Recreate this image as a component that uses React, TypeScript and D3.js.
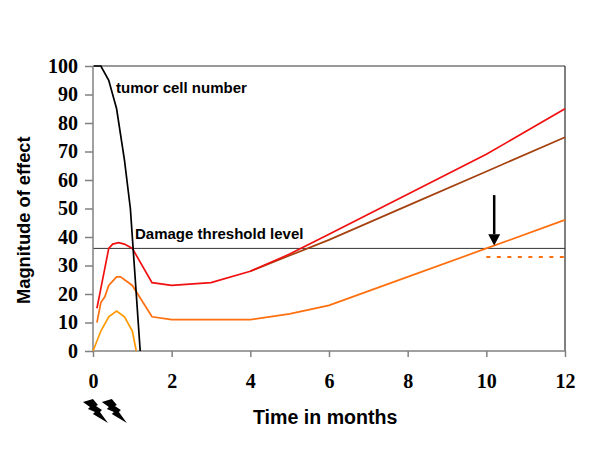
import React, { useEffect, useRef } from 'react';
import * as d3 from 'd3';

const yTicks = [0, 10, 20, 30, 40, 50, 60, 70, 80, 90, 100];
const xTicks = [0, 2, 4, 6, 8, 10, 12];

const tumorMonths = [0.02, 0.2, 0.4, 0.6, 0.8, 0.95, 1.2];
const tumorValues = [100, 100, 95, 85, 67, 50, 0];

const redMonths = [0.1, 0.2, 0.4, 0.5, 0.65, 0.8, 1, 1.5, 2, 3, 4, 5, 6, 8, 10, 12];
const redValues = [15, 22, 36, 37.5, 38, 37.5, 36, 24, 23, 24, 28, 34, 41, 55, 69, 85];

const brownMonths = [4, 5, 6, 8, 10, 12];
const brownValues = [28, 33.5, 39, 51, 63, 75];

const orangeMonths = [0.1, 0.2, 0.3, 0.4, 0.6, 0.7, 1, 1.5, 2, 4, 5, 6, 8, 10, 12];
const orangeValues = [10, 17, 19, 23, 26, 26, 23, 12, 11, 11, 13, 16, 26, 36, 46];

const lightMonths = [0, 0.2, 0.4, 0.6, 0.8, 1, 1.1];
const lightValues = [0, 7, 12, 14, 12, 7, 0];

const threshold = 36;
const dashedLevel = 33;
const dashedMonths = [10, 12];
const arrowMonth = 10.2;
const boltMonths = [0.05, 0.53];

const serif = '"Liberation Serif", serif';
const sans = '"Liberation Sans", Arial, sans-serif';

const App = () => {
  const svgRef = useRef<SVGSVGElement>(null);

  useEffect(() => {
    const svg = d3.select(svgRef.current);
    svg.selectAll('*').remove();

    const x = d3.scaleLinear().domain([0, 12]).range([93, 565]);
    const y = d3.scaleLinear().domain([0, 100]).range([351, 66]);

    const line = d3.line<number[]>().x(d => x(d[0])).y(d => y(d[1]));
    const pairs = (xs: number[], ys: number[]) => xs.map((v, i) => [v, ys[i]]);

    // plot frame
    svg.append('line').attr('x1', x(0)).attr('x2', x(12)).attr('y1', y(100)).attr('y2', y(100))
      .attr('stroke', '#333').attr('stroke-width', 1);
    svg.append('line').attr('x1', x(12)).attr('x2', x(12)).attr('y1', y(100)).attr('y2', y(0))
      .attr('stroke', '#000').attr('stroke-width', 1);

    // threshold
    svg.append('line').attr('x1', x(0)).attr('x2', x(12)).attr('y1', y(threshold)).attr('y2', y(threshold))
      .attr('stroke', '#333').attr('stroke-width', 1);

    // axes
    const axisY = svg.append('g')
      .attr('transform', `translate(${x(0)},0)`)
      .call(d3.axisLeft(y).tickValues(yTicks).tickSize(8).tickPadding(7));
    const axisX = svg.append('g')
      .attr('transform', `translate(0,${y(0)})`)
      .call(d3.axisBottom(x).tickValues(xTicks).tickSize(6).tickPadding(17));

    [axisY, axisX].forEach(a => {
      a.selectAll('path, line').attr('stroke', '#808080').attr('stroke-width', 1.5);
      a.selectAll('text')
        .attr('fill', '#000')
        .style('font-family', serif)
        .style('font-size', '20px')
        .style('font-weight', 'bold');
    });
    axisY.select('path').attr('d', `M0,${y(100)}V${y(0)}`);
    axisX.select('path').attr('d', `M${x(0)},0H${x(12)}`);

    // series
    const series: [number[], number[], string][] = [
      [lightMonths, lightValues, '#ff9900'],
      [orangeMonths, orangeValues, '#ff6f0e'],
      [brownMonths, brownValues, '#a5410f'],
      [redMonths, redValues, '#f01010'],
      [tumorMonths, tumorValues, '#000'],
    ];
    series.forEach(([xs, ys, color]) => {
      svg.append('path')
        .attr('d', line(pairs(xs, ys)))
        .attr('fill', 'none')
        .attr('stroke', color)
        .attr('stroke-width', 1.7);
    });

    // dashed level
    svg.append('line')
      .attr('x1', x(dashedMonths[0])).attr('x2', x(dashedMonths[1]))
      .attr('y1', y(dashedLevel)).attr('y2', y(dashedLevel))
      .attr('stroke', '#ff6f0e').attr('stroke-width', 2)
      .attr('stroke-dasharray', '4 6.5');

    // arrow
    const ax = x(arrowMonth);
    svg.append('line').attr('x1', ax).attr('x2', ax).attr('y1', y(54.7)).attr('y2', y(41))
      .attr('stroke', '#000').attr('stroke-width', 2.5);
    svg.append('path')
      .attr('d', `M${ax - 6},${y(41)}H${ax + 6}L${ax},${y(37)}Z`)
      .attr('fill', '#000');

    // radiation bolts
    boltMonths.forEach(m => {
      svg.append('path')
        .attr('transform', `translate(${x(m) - 12},399)`)
        .attr('d', 'M0,3 L10,0 L15,6 L13,7 L19,11 L17,13 L25,24 L10,15 L12,13 L5,10 L7,8 Z')
        .attr('fill', '#000');
    });

    // labels
    const label = (tx: number, ty: number, text: string, size: number) =>
      svg.append('text')
        .attr('x', tx).attr('y', ty)
        .style('font-family', sans)
        .style('font-size', `${size}px`)
        .style('font-weight', 'bold')
        .text(text);

    label(116, 92.5, 'tumor cell number', 15);
    label(135, 239, 'Damage threshold level', 15);
    label(253, 424, 'Time in months', 19.6);
    label(0, 0, 'Magnitude of effect', 18.3)
      .attr('transform', 'translate(30,304) rotate(-90)');
  }, []);

  return (
    <svg
      ref={svgRef}
      width={600}
      height={450}
      style={{ position: 'absolute', left: 0, top: 0, background: '#fff' }}
    ></svg>
  );
};

export default App;
